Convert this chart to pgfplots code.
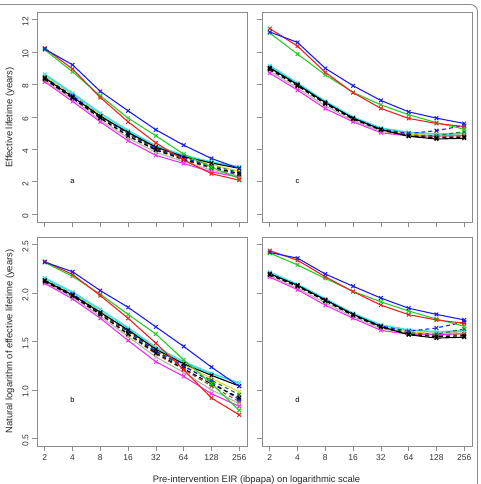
\documentclass[border=0pt]{standalone}
\usepackage{pgfplots}
\usepackage{pgfplotstable}
\pgfplotsset{compat=1.18}
\usepackage{fontspec}
\setmainfont{Liberation Sans}

% Effective lifetime (years) by pre-intervention EIR, left scenario
\pgfplotstableread{
eir blue red green cyan black yellow dkgreen bkdash bldash brown gray magenta
2   10.19 10.25 10.15 8.63 8.41 8.50 8.46 8.33 8.41 8.33 8.25 8.17
4   9.22  8.96  8.79  7.46 7.24 7.39 7.24 7.17 7.32 7.17 7.10 6.96
8   7.58  7.20  7.31  6.23 6.05 6.11 5.99 5.93 6.05 5.93 5.81 5.70
16  6.38  5.70  5.93  5.16 5.05 5.00 4.95 4.85 5.00 4.81 4.71 4.53
32  5.21  4.40  4.84  4.22 4.14 4.10 4.01 3.97 4.06 3.94 3.82 3.63
64  4.26  3.35  3.71  3.63 3.56 3.53 3.46 3.39 3.49 3.35 3.25 3.13
128 3.44  2.50  2.90  3.22 3.16 3.06 3.00 2.89 2.94 2.83 2.72 2.61
256 2.82  2.10  2.20  2.92 2.83 2.66 2.59 2.51 2.46 2.41 2.36 2.29
}\tabA

% Natural logarithm of the same lifetimes
\pgfplotstableread{
eir blue red green cyan black yellow dkgreen bkdash bldash brown gray magenta
2   2.321 2.327 2.317 2.155 2.13 2.14 2.135 2.12 2.13 2.12 2.11 2.10
4   2.221 2.193 2.174 2.01  1.98 2.00 1.98  1.97 1.99 1.97 1.96 1.94
8   2.026 1.974 1.989 1.83  1.80 1.81 1.79  1.78 1.80 1.78 1.76 1.74
16  1.853 1.740 1.780 1.64  1.62 1.61 1.60  1.58 1.61 1.57 1.55 1.51
32  1.651 1.482 1.577 1.44  1.42 1.41 1.39  1.38 1.40 1.37 1.34 1.29
64  1.449 1.209 1.311 1.29  1.27 1.26 1.24  1.22 1.25 1.21 1.18 1.14
128 1.235 0.916 1.065 1.17  1.15 1.12 1.10  1.06 1.08 1.04 1.00 0.96
256 1.037 0.742 0.788 1.07  1.04 0.98 0.95  0.92 0.90 0.88 0.86 0.83
}\tabB

% Effective lifetime (years), right scenario
\pgfplotstableread{
eir blue red green cyan black yellow dkgreen bkdash bldash brown gray magenta
2   11.25 11.46 11.18 9.16 9.03 9.07 8.98 8.94 9.03 8.94 8.85 8.71
4   10.60 10.37 9.88  8.08 8.00 8.04 7.96 7.92 8.00 7.92 7.77 7.65
8   9.00  8.75  8.60  6.96 6.89 6.92 6.86 6.82 6.89 6.82 6.69 6.52
16  7.93  7.50  7.52  5.99 5.93 5.96 5.90 5.87 5.93 5.87 5.78 5.70
32  7.02  6.53  6.75  5.31 5.23 5.26 5.23 5.21 5.26 5.18 5.13 5.03
64  6.32  5.91  6.14  5.05 4.81 4.95 4.90 4.83 4.98 4.85 4.88 4.83
128 5.93  5.60  5.65  4.95 4.64 4.85 4.83 4.71 5.16 4.76 4.88 4.81
256 5.60  5.41  5.25  5.00 4.69 4.88 5.10 4.76 5.47 4.83 4.95 4.85
}\tabC

% Natural logarithm, right scenario
\pgfplotstableread{
eir blue red green cyan black yellow dkgreen bkdash bldash brown gray magenta
2   2.420 2.439 2.414 2.215 2.20  2.205 2.195 2.19  2.20  2.19  2.18  2.165
4   2.361 2.339 2.291 2.09  2.08  2.085 2.075 2.07  2.08  2.07  2.05  2.035
8   2.197 2.169 2.152 1.94  1.93  1.935 1.925 1.92  1.93  1.92  1.90  1.875
16  2.071 2.015 2.018 1.79  1.78  1.785 1.775 1.77  1.78  1.77  1.755 1.74
32  1.949 1.876 1.910 1.67  1.655 1.66  1.655 1.65  1.66  1.645 1.635 1.615
64  1.844 1.777 1.815 1.62  1.57  1.60  1.59  1.575 1.605 1.58  1.585 1.575
128 1.780 1.723 1.732 1.60  1.535 1.58  1.575 1.55  1.64  1.56  1.585 1.57
256 1.723 1.688 1.658 1.61  1.545 1.585 1.63  1.56  1.70  1.575 1.60  1.58
}\tabD

\definecolor{cBlue}{RGB}{30,30,235}
\definecolor{cRed}{RGB}{235,35,35}
\definecolor{cGreen}{RGB}{40,205,40}
\definecolor{cCyan}{RGB}{60,225,230}
\definecolor{cYellow}{RGB}{225,215,60}
\definecolor{cDkGreen}{RGB}{30,120,40}
\definecolor{cBrown}{RGB}{160,90,40}
\definecolor{cGray}{RGB}{180,180,180}
\definecolor{cMagenta}{RGB}{235,50,235}
\definecolor{frameGray}{RGB}{140,140,140}

\pgfplotsset{
  lifepanel/.style={
    scale only axis, width=210pt,
    xmin=1.647, xmax=310.8,
    xtick={2,4,8,16,32,64,128,256},
    tick align=outside, xtick pos=bottom, ytick pos=left,
    major tick length=5pt,
    axis line style={frameGray, line width=0.8pt},
    tick style={frameGray, line width=0.7pt},
    tick label style={font=\fontsize{8.5}{9}\selectfont, text=black!80},
    /pgf/number format/assume math mode=true,
    clip=false,
  },
  lifetop/.style={height=210pt, ymin=-0.48, ymax=12.48, ytick={0,2,...,12}, xticklabel=\empty},
  lifebot/.style={height=209pt, ymin=0.42, ymax=2.58, ytick={0.5,1.0,1.5,2.0,2.5},
    xticklabels={2,4,8,16,32,64,128,256},
    yticklabel style={/pgf/number format/fixed, /pgf/number format/fixed zerofill,
      /pgf/number format/precision=1}},
  lifeleft/.style={yticklabel style={rotate=90, anchor=south, xshift=-2pt}},
  liferight/.style={yticklabel=\empty},
  lifeline/.style={line width=1.1pt, mark=x, mark size=2.6pt, mark options={solid, line width=1pt}},
}

% the twelve series of one panel, drawn in layering order
\newcommand{\drawseries}[1]{%
  \addplot[lifeline, cGray] table[x=eir,y=gray] {#1};
  \addplot[lifeline, cYellow] table[x=eir,y=yellow] {#1};
  \addplot[lifeline, cCyan, line width=1.7pt] table[x=eir,y=cyan] {#1};
  \addplot[lifeline, cMagenta] table[x=eir,y=magenta] {#1};
  \addplot[lifeline, cBrown, dash pattern=on 4pt off 3pt] table[x=eir,y=brown] {#1};
  \addplot[lifeline, cDkGreen, dash pattern=on 4pt off 3pt] table[x=eir,y=dkgreen] {#1};
  \addplot[lifeline, cBlue, dash pattern=on 4pt off 3pt] table[x=eir,y=bldash] {#1};
  \addplot[lifeline, black, dash pattern=on 4pt off 3pt] table[x=eir,y=bkdash] {#1};
  \addplot[lifeline, black] table[x=eir,y=black] {#1};
  \addplot[lifeline, cGreen] table[x=eir,y=green] {#1};
  \addplot[lifeline, cRed] table[x=eir,y=red] {#1};
  \addplot[lifeline, cBlue] table[x=eir,y=blue] {#1};
}

\begin{document}
\begin{tikzpicture}
\useasboundingbox (0,0) rectangle (481pt,484pt);
\draw[frameGray, line width=0.9pt, rounded corners=7pt] (-20pt,-20pt) rectangle (477.5pt,479.5pt);

\begin{axis}[xmode=log, log basis x=2, lifepanel, lifetop, lifeleft, at={(37pt,262pt)}, anchor=south west]
  \drawseries{\tabA}
  \node[font=\fontsize{7.5}{8}\selectfont] at (axis cs:4,2) {a};
\end{axis}

\begin{axis}[xmode=log, log basis x=2, lifepanel, lifetop, liferight, at={(262pt,262pt)}, anchor=south west]
  \drawseries{\tabC}
  \node[font=\fontsize{7.5}{8}\selectfont] at (axis cs:4,2) {c};
\end{axis}

\begin{axis}[xmode=log, log basis x=2, lifepanel, lifebot, lifeleft, at={(37pt,38pt)}, anchor=south west]
  \drawseries{\tabB}
  \node[font=\fontsize{7.5}{8}\selectfont] at (axis cs:4,0.9) {b};
\end{axis}

\begin{axis}[xmode=log, log basis x=2, lifepanel, lifebot, liferight, at={(262pt,38pt)}, anchor=south west]
  \drawseries{\tabD}
  \node[font=\fontsize{7.5}{8}\selectfont] at (axis cs:4,0.9) {d};
\end{axis}

\node[rotate=90, font=\fontsize{9.4}{10}\selectfont, text=black!85] at (10pt,366.5pt) {Effective lifetime (years)};
\node[rotate=90, font=\fontsize{9.4}{10}\selectfont, text=black!85] at (10pt,142.5pt) {Natural logarithm of effective lifetime (years)};
\node[font=\fontsize{9.4}{10}\selectfont, text=black!85] at (256.5pt,4pt) {Pre-intervention EIR (ibpapa) on logarithmic scale};
\end{tikzpicture}
\end{document}
